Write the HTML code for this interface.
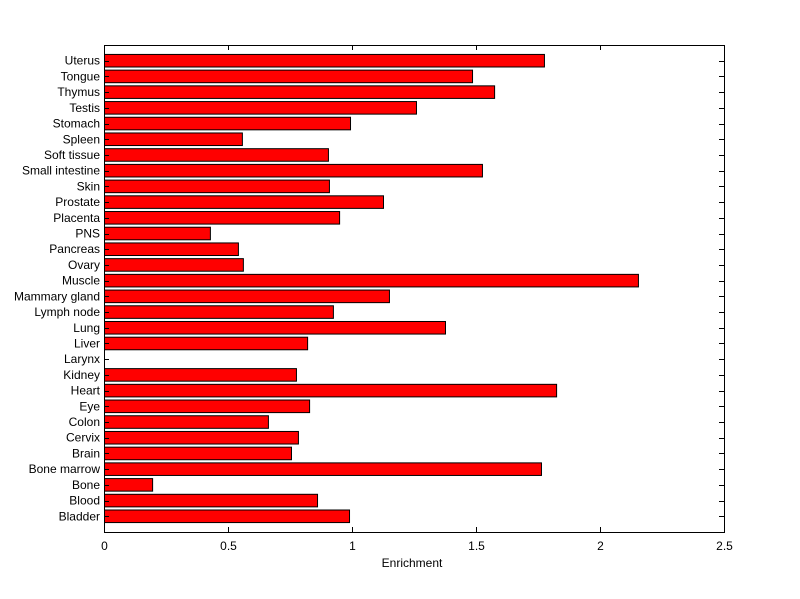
<!DOCTYPE html>
<html><head><meta charset="utf-8"><style>html,body{margin:0;padding:0;background:#fff}svg{display:block}</style></head>
<body>
<svg width="800" height="599" xmlns="http://www.w3.org/2000/svg" font-family="Liberation Sans, sans-serif" font-size="12">
<rect width="800" height="599" fill="#fff"/>
<g id="bars" stroke="#000" stroke-width="1" fill="#ff0000"></g>
<rect x="104.5" y="45.5" width="620" height="487" fill="none" stroke="#000"/>
<g id="ticks" stroke="#000"></g>
<g id="labels"></g>
<text x="412" y="567" text-anchor="middle">Enrichment</text>
<script>
(function(){
var names=["Bladder","Blood","Bone","Bone marrow","Brain","Cervix","Colon","Eye","Heart","Kidney","Larynx","Liver","Lung","Lymph node","Mammary gland","Muscle","Ovary","Pancreas","PNS","Placenta","Prostate","Skin","Small intestine","Soft tissue","Spleen","Stomach","Testis","Thymus","Tongue","Uterus"];
var vals=[0.988,0.859,0.194,1.762,0.754,0.782,0.661,0.827,1.823,0.774,0,0.819,1.375,0.923,1.149,2.153,0.560,0.540,0.427,0.948,1.125,0.907,1.524,0.903,0.556,0.992,1.258,1.573,1.484,1.774];
var ns="http://www.w3.org/2000/svg";
var X0=104,S=248,yTop=45,yBot=532,u=(yBot-yTop)/31;
var bars=document.getElementById("bars"),ticks=document.getElementById("ticks"),labels=document.getElementById("labels");
function el(p,t,a){var e=document.createElementNS(ns,t);for(var k in a)e.setAttribute(k,a[k]);p.appendChild(e);return e;}
for(var i=0;i<30;i++){
 var cy=yBot-(i+1)*u;
 if(vals[i]>0) el(bars,"rect",{x:X0+0.5,y:(cy-0.4*u),width:vals[i]*S,height:0.8*u});
 var yy=Math.round(cy)+0.5;
 el(ticks,"line",{x1:104,x2:109,y1:yy,y2:yy});
 el(ticks,"line",{x1:719,x2:724,y1:yy,y2:yy});
 var t=el(labels,"text",{x:100,y:cy+4,"text-anchor":"end"});t.textContent=names[i];
}
for(var j=0;j<=5;j++){
 var xx=Math.round(X0+j*0.5*S)+0.5;
 el(ticks,"line",{x1:xx,x2:xx,y1:532,y2:527});
 el(ticks,"line",{x1:xx,x2:xx,y1:45,y2:50});
 var t2=el(labels,"text",{x:xx,y:550,"text-anchor":"middle"});t2.textContent=["0","0.5","1","1.5","2","2.5"][j];
}
})();
</script>
</svg>
</body></html>
